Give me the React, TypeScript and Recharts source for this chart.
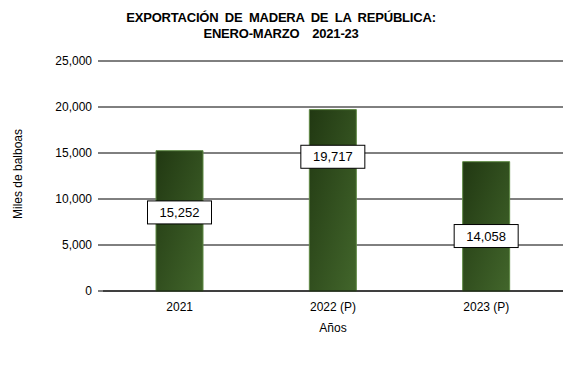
import React from 'react';
import { BarChart, Bar, XAxis, YAxis, CartesianGrid, LabelList, Label } from 'recharts';

const years = ['2021', '2022 (P)', '2023 (P)'];
const exports = [15252, 19717, 14058];
const yTicks = [0, 5000, 10000, 15000, 20000, 25000];

// where each value box sits along its bar (fraction of bar height from the top)
const labelSpot = [0.44, 0.26, 0.575];

const data = years.map((year, i) => ({ year, value: exports[i] }));

const font = '"Liberation Sans", Arial, sans-serif';
const fmt = (v: number) => v.toLocaleString('en-US');

function ValueBox(props: any) {
  const { x, y, width, height, value, index } = props;
  const cx = x + width / 2;
  const cy = y + height * labelSpot[index];
  return (
    <g>
      <rect x={cx - 32} y={cy - 11.5} width={64} height={23} fill="#fff" stroke="#000" strokeWidth={1} />
      <text x={cx} y={cy} textAnchor="middle" dominantBaseline="central" fontSize={13} fill="#000" fontFamily={font}>
        {fmt(value)}
      </text>
    </g>
  );
}

export default function App() {
  return (
    <div style={{ position: 'absolute', left: 0, top: 0, width: 576, height: 368, background: '#fff', fontFamily: font }}>
      <div
        style={{
          position: 'absolute',
          left: 81,
          width: 400,
          top: 10,
          textAlign: 'center',
          fontSize: 13,
          fontWeight: 'bold',
          lineHeight: '16px',
          color: '#000',
          letterSpacing: -0.2,
          wordSpacing: 3,
        }}
      >
        EXPORTACIÓN DE MADERA DE LA REPÚBLICA:
        <br />
        ENERO-MARZO&nbsp; 2021-23
      </div>
      <div
        style={{
          position: 'absolute',
          left: 18,
          top: 174,
          transform: 'translate(-50%, -50%) rotate(-90deg)',
          fontSize: 12,
          whiteSpace: 'nowrap',
          color: '#000',
        }}
      >
        Miles de balboas
      </div>
      <BarChart width={576} height={368} data={data} margin={{ top: 61, right: 13, bottom: 37, left: 0 }}>
        <defs>
          <linearGradient id="woodFill" x1="0" y1="0" x2="1" y2="1">
            <stop offset="0%" stopColor="#213812" />
            <stop offset="100%" stopColor="#42662b" />
          </linearGradient>
        </defs>
        <CartesianGrid vertical={false} stroke="#000" strokeWidth={1} />
        <XAxis
          dataKey="year"
          tickLine={false}
          tickSize={0}
          tickMargin={11}
          axisLine={{ stroke: '#000' }}
          height={40}
          tick={{ fill: '#000', fontSize: 12, fontFamily: font }}
        >
          <Label value="Años" position="insideBottom" offset={-1} style={{ fill: '#000', fontSize: 12, fontFamily: font }} />
        </XAxis>
        <YAxis
          width={103}
          domain={[0, 25000]}
          ticks={yTicks}
          tickFormatter={fmt}
          axisLine={false}
          tickLine={{ stroke: '#000' }}
          tickSize={5}
          tickMargin={6}
          tick={{ fill: '#000', fontSize: 12, fontFamily: font }}
        />
        <Bar dataKey="value" barSize={47} fill="url(#woodFill)" stroke="#5f8a45" strokeWidth={1} isAnimationActive={false}>
          <LabelList dataKey="value" content={ValueBox} />
        </Bar>
      </BarChart>
    </div>
  );
}
